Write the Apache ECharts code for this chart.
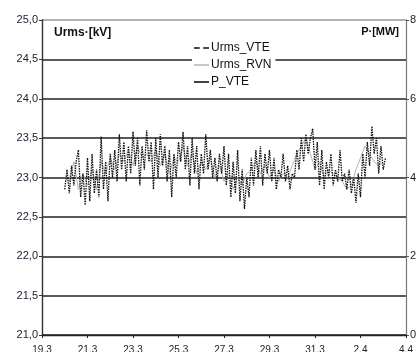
<!DOCTYPE html>
<html>
<head>
<meta charset="utf-8">
<script src="https://cdn.jsdelivr.net/npm/echarts@6/dist/echarts.min.js"></script>
<style>
  html, body { margin: 0; padding: 0; background: #fff; }
  #chart { width: 420px; height: 352px; }
</style>
</head>
<body>
<div id="chart"></div>
<script>
// x axis: days counted from 19.3
const dateLabels = ['19.3', '21.3', '23.3', '25.3', '27.3', '29.3', '31.3', '2.4', '4.4'];

// Urms_VTE, one value every 0.1 day starting at day 1.0 (20.3)
const vteStart = 1.0, vteStep = 0.1;
const urmsVTE = [
  22.85, 23.1, 22.8, 23.15, 22.9, 23.2,
  23.35, 22.75, 23.05, 22.65, 23.25,
  22.7, 23.3, 22.8, 23.1, 22.75,
  23.52, 22.85, 23.2, 22.7, 23.3,
  23.0, 23.35, 22.95, 23.55, 23.1,
  23.45, 22.95, 23.4, 23.05, 23.58,
  23.15, 23.5, 22.9, 23.4, 23.1,
  23.6, 23.2, 23.45, 22.85, 23.5,
  23.0, 23.55, 23.15, 23.4, 22.95,
  23.35, 22.75, 23.3, 23.0, 23.45,
  23.2, 23.58, 23.1, 23.4, 22.9,
  23.5, 23.05, 23.4, 22.85, 23.3,
  23.05, 23.55, 23.1, 23.35, 23.0,
  23.25, 22.95, 23.3, 23.05, 23.4,
  22.9, 23.3, 22.75, 23.2, 22.8,
  23.35, 22.7, 23.1, 22.6, 23.0,
  22.75, 23.25, 22.9, 23.35, 23.0,
  23.4, 22.9, 23.3, 23.05, 23.35,
  22.95, 23.25, 22.85, 23.1, 23.0,
  23.3, 22.95, 23.15, 22.85, 23.05,
  23.0, 23.35, 23.1, 23.5, 23.2,
  23.55, 23.3, 23.5, 23.62, 23.1,
  23.45, 22.9, 23.35, 22.85, 23.2,
  23.0, 23.3, 22.9, 23.1, 22.95,
  23.35, 22.95, 23.05, 22.85, 23.1,
  22.8, 23.0, 22.68, 23.05, 22.75,
  23.3, 23.0, 23.45, 23.15, 23.65,
  23.3, 23.5, 23.05, 23.4, 23.1, 23.25
];

// Urms_RVN, one value every 0.2 day starting at day 1.0
const rvnStart = 1.0, rvnStep = 0.2;
const urmsRVN = [
  23.0, 22.95, 23.2, 22.85, 23.05, 22.9, 23.1, 22.85, 23.2, 23.05,
  23.25, 23.1, 23.3, 23.2, 23.35, 23.15, 23.4, 23.25, 23.3, 23.2,
  23.35, 23.15, 23.3, 23.05, 23.25, 23.2, 23.4, 23.15, 23.3, 23.05,
  23.2, 23.1, 23.25, 23.0, 23.15, 22.95, 23.05, 22.85, 23.0, 22.9,
  23.05, 23.1, 23.2, 23.05, 23.15, 23.0, 23.1, 22.95, 23.05, 23.0,
  23.15, 23.3, 23.4, 23.5, 23.3, 23.1, 23.2, 23.0, 23.1, 23.05,
  23.0, 22.95, 22.85, 22.9, 23.1, 23.25, 23.4, 23.3, 23.2, 23.15, 23.2
];

// P_VTE: not visible in the plot, legend only
const pVTE = [];

const chart = echarts.init(document.getElementById('chart'));
const font = 'Liberation Sans, Arial, sans-serif';

// split line colours from 21,0 up to 25,0 (top one lighter)
const gridColors = ['#222', '#222', '#222', '#222', '#222', '#222', '#222', '#222', '#999'];

chart.setOption({
  animation: false,
  backgroundColor: '#fff',
  textStyle: { fontFamily: font },
  grid: { left: 42, right: 14, top: 20, bottom: 17, containLabel: false, outerBoundsMode: 'none' },
  title: [
    { text: 'Urms·[kV]', left: 49, top: 22, textStyle: { fontSize: 12, fontWeight: 'bold', color: '#111', fontFamily: font } },
    { text: 'P·[MW]', right: 16, top: 21, textStyle: { fontSize: 11, fontWeight: 'bold', color: '#111', fontFamily: font } }
  ],
  legend: {
    orient: 'vertical',
    left: 192,
    top: 40,
    itemWidth: 15,
    itemHeight: 12,
    itemGap: 5,
    padding: [2, 4, 2, 2],
    backgroundColor: '#fff',
    textStyle: { fontSize: 12, color: '#111', fontFamily: font, padding: [0, 0, 0, -3] },
    data: [
      { name: 'Urms_VTE', icon: 'path://M0,0h5v1.4h-5zM8,0h5v1.4h-5z', itemStyle: { color: '#111' } },
      { name: 'Urms_RVN', icon: 'path://M0,0h14v1.4h-14z', itemStyle: { color: '#b5b5b5' } },
      { name: 'P_VTE', icon: 'path://M0,0h14v1.6h-14z', itemStyle: { color: '#222' } }
    ]
  },
  xAxis: {
    type: 'value',
    min: 0, max: 16, interval: 2,
    axisLine: { lineStyle: { color: '#222', width: 1.4 } },
    axisTick: { show: true, length: 3, lineStyle: { color: '#222' } },
    axisLabel: {
      fontSize: 10, color: '#222', margin: 10,
      formatter: v => dateLabels[Math.round(v / 2)]
    },
    splitLine: { show: false }
  },
  yAxis: [
    {
      type: 'value',
      min: 21, max: 25, interval: 0.5,
      axisLine: { show: true, lineStyle: { color: '#333', width: 1.4 } },
      axisTick: { show: true, length: 3, lineStyle: { color: '#333' } },
      axisLabel: { fontSize: 11, color: '#1a1a33', margin: 4, formatter: v => v.toFixed(1).replace('.', ',') },
      splitLine: { lineStyle: { color: gridColors, width: 1.5 } }
    },
    {
      type: 'value',
      min: 0, max: 8, interval: 2,
      position: 'right',
      axisLine: { show: true, lineStyle: { color: '#777', width: 1.2 } },
      axisTick: { show: true, length: 3, lineStyle: { color: '#555' } },
      axisLabel: { fontSize: 11, color: '#1a1a33', margin: 4 },
      splitLine: { show: false }
    }
  ],
  series: [
    {
      name: 'Urms_RVN',
      type: 'line',
      yAxisIndex: 0,
      symbol: 'none',
      data: urmsRVN.map((v, i) => [rvnStart + i * rvnStep, v]),
      lineStyle: { color: '#b5b5b5', width: 1 },
      itemStyle: { color: '#b5b5b5' },
      z: 2
    },
    {
      name: 'Urms_VTE',
      type: 'line',
      yAxisIndex: 0,
      symbol: 'none',
      data: urmsVTE.map((v, i) => [vteStart + i * vteStep, v]),
      lineStyle: { color: '#111', width: 1.3, type: [1.5, 1] },
      itemStyle: { color: '#111' },
      z: 3
    },
    {
      name: 'P_VTE',
      type: 'line',
      yAxisIndex: 1,
      symbol: 'none',
      data: pVTE,
      lineStyle: { color: '#222', width: 1 },
      itemStyle: { color: '#222' }
    }
  ]
});
</script>
</body>
</html>
